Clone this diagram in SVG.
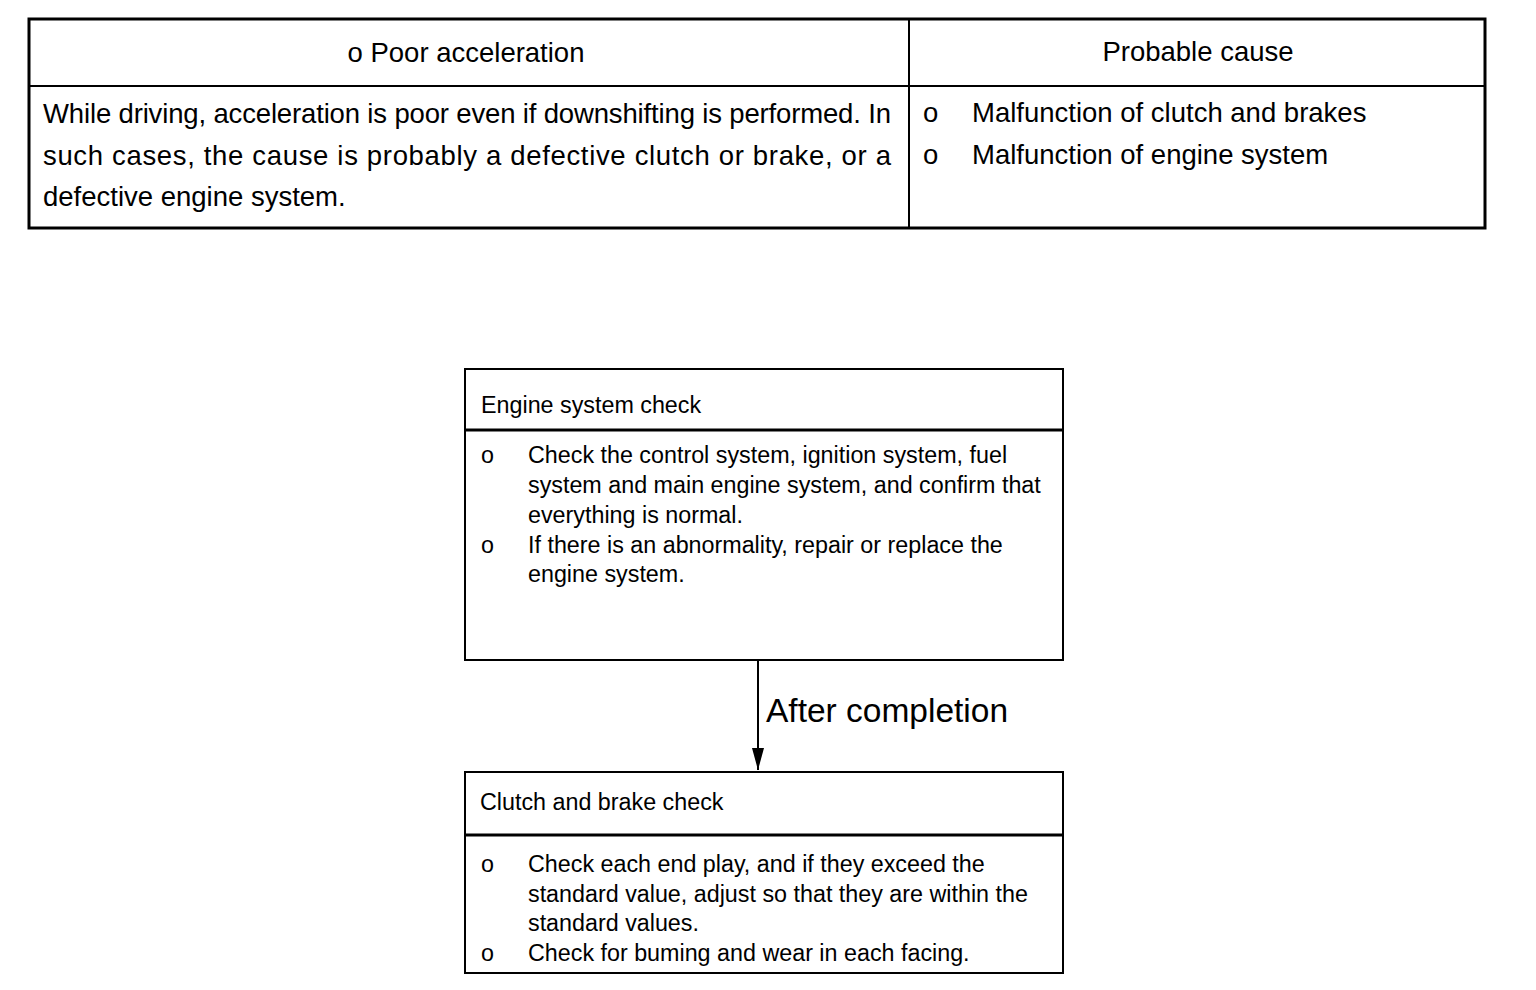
<svg xmlns="http://www.w3.org/2000/svg" width="1536" height="990" viewBox="0 0 1536 990">
<defs>
<style>
.t{font-family:"Liberation Sans",Arial,sans-serif;fill:#000}
.tb{font-size:27.5px}
.bx{font-size:23.3px}
.ln{stroke:#000;fill:none}
</style>
<marker id="ah" markerWidth="24" markerHeight="12" refX="22" refY="6" orient="auto" markerUnits="userSpaceOnUse" viewBox="0 0 24 12">
<path d="M0,0 L22,6 L0,12 Z" fill="#000"/>
</marker>
</defs>
<rect width="1536" height="990" fill="#fff"/>
<g id="table">
<rect x="29" y="19" width="1456" height="209" class="ln" stroke-width="3"/>
<line x1="909" y1="19" x2="909" y2="228" class="ln" stroke-width="2"/>
<line x1="29" y1="86" x2="1485" y2="86" class="ln" stroke-width="2"/>
<text class="t tb" x="466" y="62" text-anchor="middle">o Poor acceleration</text>
<text class="t tb" x="1198" y="61" text-anchor="middle">Probable cause</text>
<text class="t tb" x="43" y="123" textLength="848" lengthAdjust="spacing">While driving, acceleration is poor even if downshifting is performed. In</text>
<text class="t tb" x="43" y="165" textLength="848" lengthAdjust="spacing">such cases, the cause is probably a defective clutch or brake, or a</text>
<text class="t tb" x="43" y="206">defective engine system.</text>
<text class="t tb" x="923" y="122">o</text>
<text class="t tb" x="972" y="122">Malfunction of clutch and brakes</text>
<text class="t tb" x="923" y="164">o</text>
<text class="t tb" x="972" y="164">Malfunction of engine system</text>
</g>
<g id="engine-check">
<rect x="465" y="369" width="598" height="291" class="ln" stroke-width="2"/>
<line x1="465" y1="430" x2="1063" y2="430" class="ln" stroke-width="3"/>
<text class="t bx" x="481" y="413">Engine system check</text>
<text class="t bx" x="481" y="463">o</text>
<text class="t bx" x="528" y="463">Check the control system, ignition system, fuel</text>
<text class="t bx" x="528" y="493">system and main engine system, and confirm that</text>
<text class="t bx" x="528" y="523">everything is normal.</text>
<text class="t bx" x="481" y="553">o</text>
<text class="t bx" x="528" y="553">If there is an abnormality, repair or replace the</text>
<text class="t bx" x="528" y="582">engine system.</text>
</g>
<g id="clutch-brake-check">
<rect x="465" y="772" width="598" height="201" class="ln" stroke-width="2"/>
<line x1="465" y1="835" x2="1063" y2="835" class="ln" stroke-width="3"/>
<text class="t bx" x="480" y="810">Clutch and brake check</text>
<text class="t bx" x="481" y="872">o</text>
<text class="t bx" x="528" y="872">Check each end play, and if they exceed the</text>
<text class="t bx" x="528" y="902">standard value, adjust so that they are within the</text>
<text class="t bx" x="528" y="931">standard values.</text>
<text class="t bx" x="481" y="961">o</text>
<text class="t bx" x="528" y="961">Check for buming and wear in each facing.</text>
</g>
<g id="connectors">
<line x1="758" y1="661" x2="758" y2="770" class="ln" stroke-width="2" marker-end="url(#ah)"/>
<text class="t" x="766" y="722" font-size="33.5">After completion</text>
</g>
</svg>
